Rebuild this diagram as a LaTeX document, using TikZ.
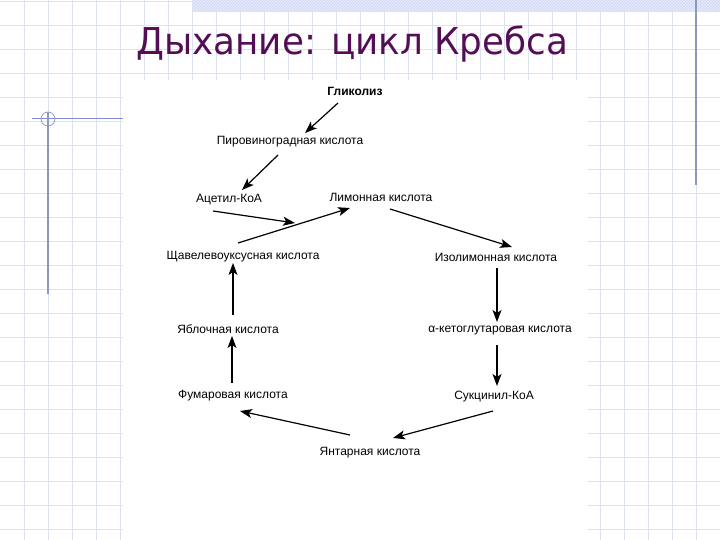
\documentclass[tikz,border=0pt]{standalone}
\usepackage{fontspec}
\setmainfont{Liberation Sans}
\newfontfamily\titlefont{DejaVu Sans}
\usetikzlibrary{arrows.meta,calc,patterns}
\definecolor{gridc}{RGB}{220,226,240}
\definecolor{decoc}{RGB}{140,152,192}
\definecolor{hlinec}{RGB}{128,140,216}
\definecolor{titlec}{RGB}{84,14,86}
\definecolor{bandc}{RGB}{230,236,246}
\tikzset{
  lbl/.style={font=\fontsize{12}{14}\selectfont, inner sep=1pt},
  arr/.style={line width=1.2pt, -{Stealth[length=12pt,width=9pt,inset=3pt]}},
}
\begin{document}
\begin{tikzpicture}[x=1pt,y=-1pt]
\useasboundingbox (0,0) rectangle (720,540);
\fill[white] (0,0) rectangle (720,540);
% grid
\foreach \i in {1,...,29} \draw[gridc, line width=0.8pt] (24*\i,0) -- (24*\i,540);
\foreach \j in {0,...,22} \draw[gridc, line width=0.8pt] (0,24*\j+1) -- (720,24*\j+1);
% top band
\fill[bandc] (192,0) rectangle (720,12);
\fill[pattern=north east lines, pattern color=gridc!70!blue!50] (192,0) rectangle (720,12);
% right decorative line
\draw[decoc, line width=1.4pt] (696,0) -- (696,185);
% left decorative
\draw[hlinec, line width=1pt] (32,119) -- (124,119);
\draw[decoc, line width=1.4pt] (48,112) -- (48,294);
\draw[decoc, line width=0.7pt] (48,119) circle (7);
% white panel
\fill[white] (123,80) rectangle (588,540);
% title
\node[anchor=base west, inner sep=0pt, text=titlec, font=\titlefont\fontsize{37}{40}\selectfont] (title) at (136,55) {\scalebox{0.966}[1]{Дыхание: цикл Кребса}};
% nodes
\node[lbl, font=\bfseries\fontsize{12}{14}\selectfont] (glyc) at (355,91) {Гликолиз};
\node[lbl] (pyr) at (290,142) {Пировиноградная кислота};
\node[lbl] (acet) at (229,200) {Ацетил-КоА};
\node[lbl] (cit) at (381,197) {Лимонная кислота};
\node[lbl] (oxa) at (243,257) {Щавелевоуксусная кислота};
\node[lbl] (iso) at (496,257) {Изолимонная кислота};
\node[lbl] (mal) at (228,329) {Яблочная кислота};
\node[lbl] (akg) at (500,331) {α-кетоглутаровая кислота};
\node[lbl] (fum) at (233,396) {Фумаровая кислота};
\node[lbl] (suc) at (494,397) {Сукцинил-КоА};
\node[lbl] (succ) at (370,453) {Янтарная кислота};
\coordinate (join) at (295,223);
% arrows
\draw[arr] ($(glyc)+(-17,12)$) -- ($(pyr)+(15,-9)$);
\draw[arr] ($(pyr)+(-12,13)$) -- ($(acet)+(13,-10)$);
\draw[arr] ($(acet)+(-16,11)$) -- (join);
\draw[arr] ($(oxa)+(-5,-14)$) -- ($(cit)+(-31,11)$);
\draw[arr] ($(cit)+(9,12)$) -- ($(iso)+(16,-10)$);
\draw[arr] ($(iso)+(1,11)$) -- ($(akg)+(-3,-9)$);
\draw[arr] ($(akg)+(-3,14)$) -- ($(suc)+(3,-11)$);
\draw[arr] ($(suc)+(-1,14)$) -- ($(succ)+(23,-15)$);
\draw[arr] ($(succ)+(-20,-18)$) -- ($(fum)+(7,15)$);
\draw[arr] ($(fum)+(-1,-13)$) -- ($(mal)+(4,7)$);
\draw[arr] ($(mal)+(5,-14)$) -- ($(oxa)+(-10,6)$);
\end{tikzpicture}
\end{document}
